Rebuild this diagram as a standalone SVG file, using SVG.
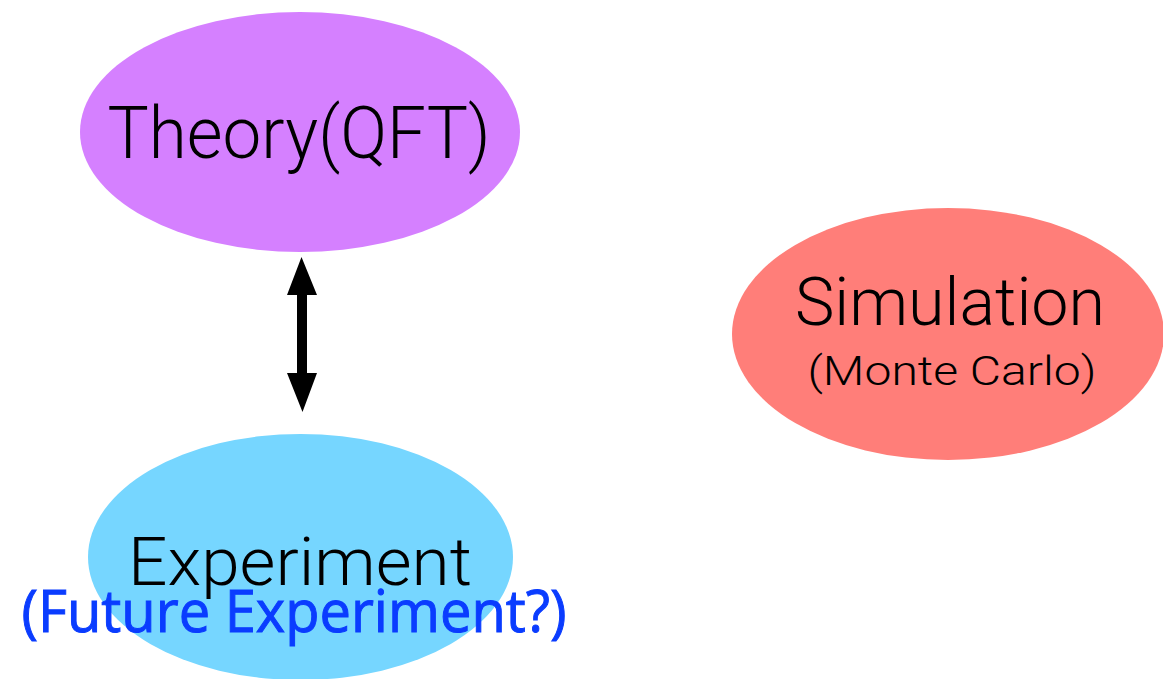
<svg xmlns="http://www.w3.org/2000/svg" width="1163" height="679" viewBox="0 0 1163 679">
  <style>
    .lbl { font-family: Roboto, "Liberation Sans", Arial, sans-serif; font-weight: 300; fill: #000; text-anchor: middle; }
    .blue { font-family: "Open Sans", Lato, sans-serif; font-weight: 400; fill: #0A3CFF; stroke: #0A3CFF; stroke-width: 1; text-anchor: middle; }
  </style>
  <rect width="1163" height="679" fill="#ffffff"/>
  <g id="theory">
    <ellipse cx="300" cy="132" rx="220" ry="120" fill="#D580FF"/>
    <text class="lbl" x="299" y="158" font-size="73" textLength="383" lengthAdjust="spacingAndGlyphs">Theory(QFT)</text>
  </g>
  <g id="simulation">
    <ellipse cx="948" cy="334" rx="216" ry="126" fill="#FF7E79"/>
    <text class="lbl" x="950" y="325" font-size="66" textLength="310" lengthAdjust="spacingAndGlyphs">Simulation</text>
    <text class="lbl" x="952" y="385" font-size="41" textLength="289" lengthAdjust="spacingAndGlyphs">(Monte Carlo)</text>
  </g>
  <g id="experiment">
    <ellipse cx="300.5" cy="557" rx="212.5" ry="123" fill="#76D6FF"/>
    <text class="lbl" x="300" y="585" font-size="66" textLength="344" lengthAdjust="spacingAndGlyphs">Experiment</text>
    <text class="blue" x="294" y="632" font-size="58" textLength="545" lengthAdjust="spacingAndGlyphs">(Future Experiment?)</text>
  </g>
  <g id="connectors">
    <path d="M301.5,257 L317,295 L307,295 L307,373 L317,373 L302.5,412 L287,373 L297,373 L297,295 L287,295 Z" fill="#000"/>
  </g>
</svg>
